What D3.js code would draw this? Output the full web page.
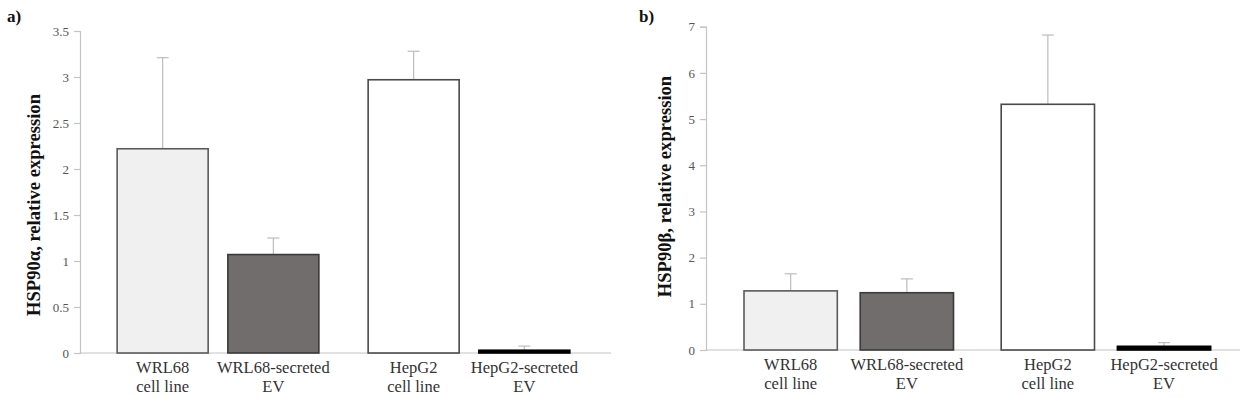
<!DOCTYPE html>
<html><head><meta charset="utf-8">
<script src="https://cdn.jsdelivr.net/npm/d3@7"></script>
<style>body{margin:0;background:#fff}svg{display:block}
svg text{font-family:"Liberation Serif","DejaVu Serif","Times New Roman",Times,serif !important;}</style>
</head><body>
<svg id="c" width="1240" height="397"></svg>
<script>
const groups = ["WRL68", "HepG2"];
const kinds = ["cell line", "EV"];
const labelsLine1 = ["WRL68", "WRL68-secreted", "HepG2", "HepG2-secreted"];
const labelsLine2 = ["cell line", "EV", "cell line", "EV"];
const alphaMean = [2.22, 1.07, 2.97, 0.03];
const alphaErr  = [0.99, 0.18, 0.31, 0.045];
const betaMean  = [1.28, 1.24, 5.32, 0.08];
const betaErr   = [0.37, 0.30, 1.50, 0.08];
const alphaTicks = [0, 0.5, 1, 1.5, 2, 2.5, 3, 3.5];
const betaTicks = [0, 1, 2, 3, 4, 5, 6, 7];
const fills = ["#f0f0f0", "#726d6d", "#ffffff", "#000000"];
const strokes = ["#5a5a5a", "#3a3a3a", "#4a4a4a", "#000000"];

const svg = d3.select("#c");

function panel(opt) {
  const g = svg.append("g");
  const y = d3.scaleLinear().domain([0, opt.max]).range([opt.y0, opt.y1]);
  const gx = d3.scaleBand().domain(groups).range([opt.x0, opt.bandEnd]).paddingInner(opt.pig).paddingOuter(opt.pog);
  const ix = d3.scaleBand().domain(kinds).range([0, gx.bandwidth()]).paddingInner(opt.pii).paddingOuter(opt.poi);
  const data = opt.means.map((m, i) => ({m, e: opt.errs[i], g: groups[Math.floor(i / 2)], k: kinds[i % 2], i}));
  const xLeft = d => gx(d.g) + ix(d.k);
  const xMid = d => xLeft(d) + ix.bandwidth() / 2;

  // y axis
  const ya = g.append("g").attr("transform", `translate(${opt.x0},0)`)
    .call(d3.axisLeft(y).tickValues(opt.ticks).tickSize(6).tickPadding(5).tickFormat(d => String(d)));
  ya.select(".domain").attr("stroke", "#c4c4c4").attr("stroke-width", 1.2);
  ya.selectAll(".tick line").attr("stroke", "#c4c4c4").attr("stroke-width", 1.2);
  ya.selectAll(".tick text").attr("font-size", 13).attr("fill", "#555");

  // baseline
  g.append("line").attr("x1", opt.x0).attr("x2", opt.x1).attr("y1", y(0)).attr("y2", y(0))
    .attr("stroke", "#c4c4c4").attr("stroke-width", 1.2);

  // error bars
  const eb = g.selectAll(".eb").data(data).join("g");
  eb.append("line").attr("x1", xMid).attr("x2", xMid)
    .attr("y1", d => y(d.m)).attr("y2", d => y(d.m + d.e)).attr("stroke", "#bdbdbd").attr("stroke-width", 1.2);
  eb.append("line").attr("x1", d => xMid(d) - 6).attr("x2", d => xMid(d) + 6)
    .attr("y1", d => y(d.m + d.e)).attr("y2", d => y(d.m + d.e)).attr("stroke", "#bdbdbd").attr("stroke-width", 1.2);

  // bars
  g.selectAll(".bar").data(data).join("rect")
    .attr("x", d => xLeft(d)).attr("width", ix.bandwidth())
    .attr("y", d => y(d.m)).attr("height", d => y(0) - y(d.m))
    .attr("fill", d => fills[d.i]).attr("stroke", d => strokes[d.i]).attr("stroke-width", 1.6);

  // x labels
  const lab = g.selectAll(".lab").data(data).join("text")
    .attr("text-anchor", "middle").attr("font-size", 16.5).attr("fill", "#333");
  lab.append("tspan").attr("x", xMid).attr("y", y(0) + 20).text(d => labelsLine1[d.i]);
  lab.append("tspan").attr("x", xMid).attr("y", y(0) + 39).text(d => labelsLine2[d.i]);

  // y title
  g.append("text").attr("transform", `translate(${opt.tx},${opt.ty}) rotate(-90)`)
    .attr("text-anchor", "middle").attr("font-weight", "bold")
    .attr("font-size", 18.6).attr("fill", "#111").text(opt.title);

  // panel letter
  g.append("text").attr("x", opt.lx).attr("y", 22).attr("font-weight", "bold")
    .attr("font-size", 17).attr("fill", "#111").text(opt.letter);
}

panel({x0: 80, x1: 611, bandEnd: 607, y0: 353, y1: 31, max: 3.5, ticks: alphaTicks, means: alphaMean, errs: alphaErr,
  pig: 0.1167, pog: 0.1082, pii: 0.178, poi: 0.0903,
  title: "HSP90α, relative expression", tx: 40, ty: 205, letter: "a)", lx: 7});
panel({x0: 706, x1: 1240, bandEnd: 1248.7, y0: 350, y1: 26.7, max: 7, ticks: betaTicks, means: betaMean, errs: betaErr,
  pig: 0.1077, pog: 0.1089, pii: 0.197, poi: 0.086,
  title: "HSP90β, relative expression", tx: 671, ty: 186.5, letter: "b)", lx: 639});
</script>
</body></html>
